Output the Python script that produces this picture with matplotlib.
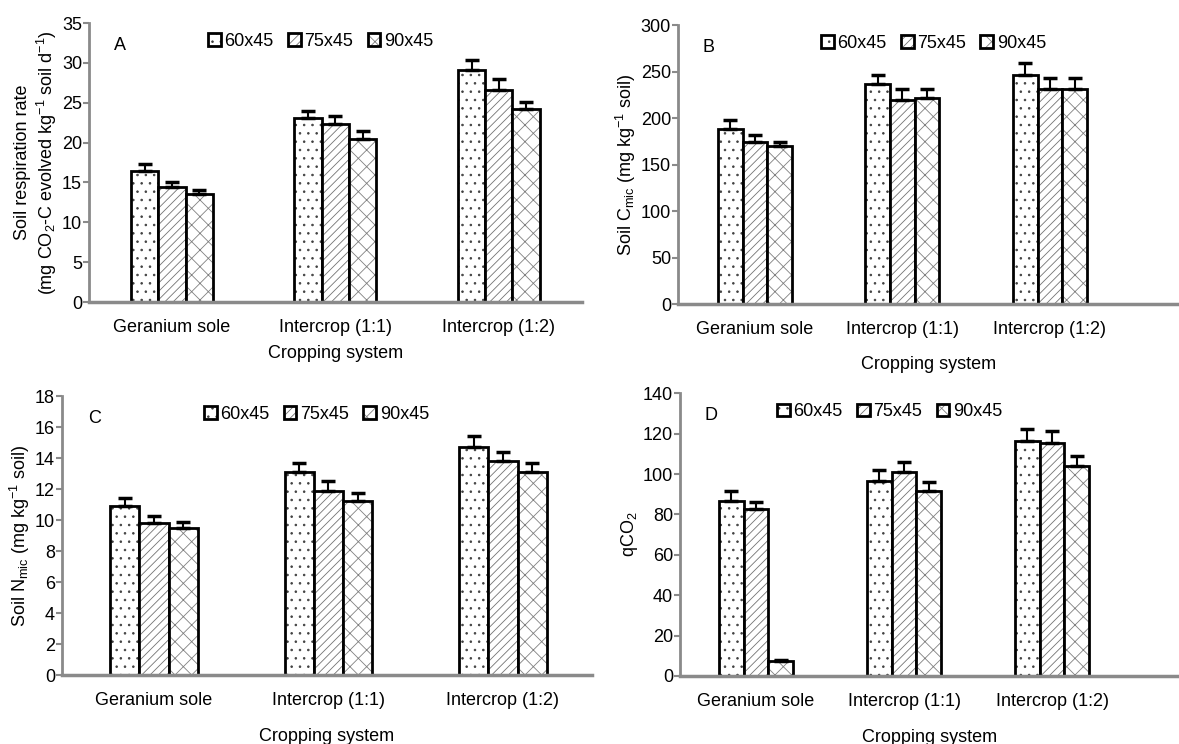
import numpy as np
import matplotlib.pyplot as plt
from matplotlib import rcParams

rcParams['font.family'] = ['Liberation Sans', 'DejaVu Sans']
rcParams['mathtext.fontset'] = 'custom'
rcParams['mathtext.rm'] = 'Liberation Sans'
rcParams['mathtext.it'] = 'Liberation Sans'
rcParams['hatch.linewidth'] = 0.6

categories = ['Geranium sole', 'Intercrop (1:1)', 'Intercrop (1:2)']
spacings = ['60x45', '75x45', '90x45']

# panel A: soil respiration rate
resp = [[16.5, 23.1, 29.1],
        [14.4, 22.3, 26.6],
        [13.6, 20.5, 24.2]]
resp_err = [[0.8, 0.9, 1.3],
            [0.6, 1.1, 1.4],
            [0.5, 0.9, 0.9]]

# panel B: soil microbial C
cmic = [[188, 237, 247],
        [175, 220, 232],
        [170, 222, 232]]
cmic_err = [[10, 10, 12],
            [7, 12, 11],
            [5, 10, 11]]

# panel C: soil microbial N
nmic = [[10.9, 13.1, 14.7],
        [9.8, 11.9, 13.8],
        [9.5, 11.2, 13.1]]
nmic_err = [[0.55, 0.6, 0.75],
            [0.45, 0.6, 0.6],
            [0.4, 0.55, 0.6]]

# panel D: qCO2
qco2 = [[86.8, 96.6, 116.5],
        [82.7, 101.2, 115.6],
        [7.4, 91.8, 104.0]]
qco2_err = [[5.0, 5.4, 5.8],
            [3.6, 4.6, 5.7],
            [0.5, 4.4, 5.0]]

hatches = ['..', '////', 'xx']
hatch_rgba = [(0.25, 0.25, 0.25, 1.0), (0.45, 0.45, 0.45, 1.0), (0.5, 0.5, 0.5, 1.0)]
spine_gray = '#8a8a8a'

fig = plt.figure(figsize=(11.79, 7.44), dpi=100)

panels = [
    # data, err, rect, xlim, ylim, yticks, letter, ylabel, legend x, xlabel pad
    (resp, resp_err, [0.0755, 0.594, 0.418, 0.375], (-0.508, 2.508), (0, 35), np.arange(0, 36, 5), 'A',
     'Soil respiration rate\n(mg CO$_2$-C evolved kg$^{-1}$ soil d$^{-1}$)', 0.47, 7),
    (cmic, cmic_err, [0.575, 0.591, 0.425, 0.375], (-0.522, 2.875), (0, 300), np.arange(0, 301, 50), 'B',
     'Soil C$_{mic}$ (mg kg$^{-1}$ soil)', 0.51, 13),
    (nmic, nmic_err, [0.0526, 0.0927, 0.4495, 0.375], (-0.527, 2.51), (0, 18), np.arange(0, 19, 2), 'C',
     'Soil N$_{mic}$ (mg kg$^{-1}$ soil)', 0.48, 14),
    (qco2, qco2_err, [0.5768, 0.0914, 0.4232, 0.38], (-0.514, 2.858), (0, 140), np.arange(0, 141, 20), 'D',
     'qCO$_2$', 0.42, 14),
]

x = np.arange(len(categories))
w = 0.167

for data, err, rect, xlim, ylim, yticks, letter, ylabel, legx, xpad in panels:
    ax = fig.add_axes(rect)
    handles = []
    for i in range(3):
        pos = x + (i - 1) * w
        b = ax.bar(pos, data[i], width=w, color='white', edgecolor='black',
                   linewidth=2.0, hatch=hatches[i], label=spacings[i], zorder=2)
        for patch in b:
            patch._hatch_color = hatch_rgba[i]
        ax.errorbar(pos, data[i], yerr=[np.zeros(3), err[i]], fmt='none',
                    ecolor='black', elinewidth=1.5, capsize=5, capthick=2.5, zorder=3)
        handles.append(b)
    ax.set_xlim(*xlim)
    ax.set_ylim(*ylim)
    ax.set_yticks(yticks)
    ax.set_xticks(x)
    ax.set_xticklabels(categories, fontsize=13)
    ax.tick_params(axis='x', length=0, pad=12)
    ax.tick_params(axis='y', length=4, width=1.5, color=spine_gray, labelsize=13, pad=1)
    for s in ['top', 'right']:
        ax.spines[s].set_visible(False)
    ax.spines['left'].set_color(spine_gray)
    ax.spines['left'].set_linewidth(2)
    ax.spines['bottom'].set_color(spine_gray)
    ax.spines['bottom'].set_linewidth(2.5)
    ax.set_xlabel('Cropping system', fontsize=13, labelpad=xpad)
    ax.set_ylabel(ylabel, fontsize=13, labelpad=2)
    ax.text(0.05, 0.92, letter, transform=ax.transAxes, fontsize=13, va='center')
    ax.legend(handles=handles, loc='center', bbox_to_anchor=(legx, 0.935), ncol=3, frameon=False,
              fontsize=13, handlelength=0.7, handleheight=0.7, handletextpad=0.2, columnspacing=0.8)

fig.savefig('out.png', dpi=100)
